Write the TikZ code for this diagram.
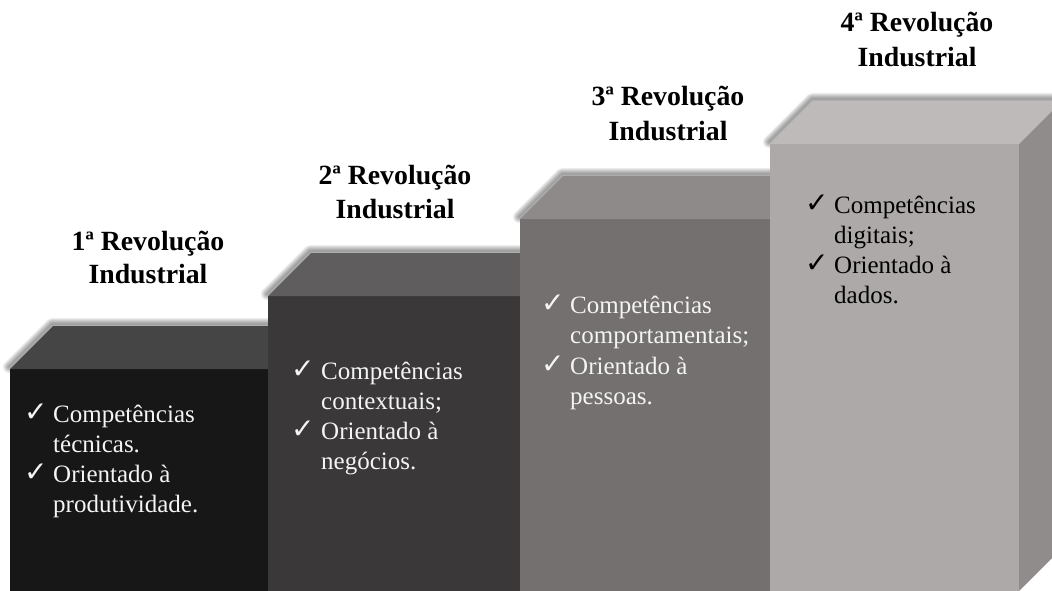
\documentclass[tikz,border=0pt]{standalone}
\usepackage{fontspec}
\setmainfont{Liberation Serif}
\newfontfamily\symfont{DejaVu Sans}
\definecolor{fA}{HTML}{171717}\definecolor{tA}{HTML}{454545}
\definecolor{fB}{HTML}{3A3838}\definecolor{tB}{HTML}{5F5D5D}
\definecolor{fC}{HTML}{73706F}\definecolor{tC}{HTML}{8E8A89}
\definecolor{fD}{HTML}{ADA9A8}\definecolor{tD}{HTML}{BEBAB9}\definecolor{sD}{HTML}{8F8C8B}
\definecolor{wtext}{HTML}{F4F4F4}
\tikzset{
  title/.style={font=\bfseries\fontsize{27.8}{33}\selectfont, anchor=base, inner sep=0pt, text=black},
  bt/.style={font=\fontsize{25}{30}\selectfont, anchor=base west, inner sep=0pt, text=wtext},
  ck/.style={font=\symfont\fontsize{28}{28}\selectfont, anchor=base west, inner sep=0pt, text=wtext},
  shad/.style={draw=black, opacity=0.07, line join=round, line cap=round},
}
\newcommand\myshadow[1]{\begin{scope}[shift={(-1,-2)}]\foreach \w in {2,4,...,12}{\draw[shad, line width=\w pt] #1;}\end{scope}}
\newcommand\myitem[6]{%
  \node[ck] (#1c) at (#2,#4-1) {✓};
  \node[bt] (#1a) at (#3,#4) {#5};
  \node[bt] (#1b) at (#3,#4+30) {#6};}
\begin{document}
\begin{tikzpicture}[x=1pt,y=-1pt]
\useasboundingbox (0,0) rectangle (1052,591);
\fill[white] (0,0) rectangle (1052,591);
\clip (0,0) rectangle (1052,591);
% box 1
\myshadow{(10,369) -- (53,326) -- (311,326)}
\fill[fA] (10,369) rectangle (268,600);
\fill[tA] (10,369) -- (53,326) -- (311,326) -- (268,369) -- cycle;
% box 2
\myshadow{(268,296) -- (311,253) -- (563,253)}
\fill[fB] (268,296) rectangle (520,600);
\fill[tB] (268,296) -- (311,253) -- (563,253) -- (520,296) -- cycle;
% box 3
\myshadow{(520,219) -- (563,176) -- (813,176)}
\fill[fC] (520,219) rectangle (770,600);
\fill[tC] (520,219) -- (563,176) -- (813,176) -- (770,219) -- cycle;
% box 4
\myshadow{(770,144) -- (813,101) -- (1070,101)}
\fill[fD] (770,144) rectangle (1019,600);
\fill[tD] (770,144) -- (813,101) -- (1062,101) -- (1019,144) -- cycle;
\fill[sD] (1019,144) -- (1062,101) -- (1062,548) -- (1019,591) -- cycle;
% titles
\node[title] (t1a) at (148,250) {1ª Revolução};
\node[title] (t1b) at (148,283) {Industrial};
\node[title] (t2a) at (395,184) {2ª Revolução};
\node[title] (t2b) at (395,218) {Industrial};
\node[title] (t3a) at (668,106) {3ª Revolução};
\node[title] (t3b) at (668,141) {Industrial};
\node[title] (t4a) at (917,32) {4ª Revolução};
\node[title] (t4b) at (917,67) {Industrial};
% bullets
\myitem{p}{24}{53}{422}{Competências}{técnicas.}
\myitem{q}{24}{53}{482}{Orientado à}{produtividade.}
\myitem{r}{291}{321}{379}{Competências}{contextuais;}
\myitem{s}{291}{321}{439}{Orientado à}{negócios.}
\myitem{u}{541}{570}{313}{Competências}{comportamentais;}
\myitem{v}{541}{570}{374}{Orientado à}{pessoas.}
\begin{scope}[bt/.append style={text=black}, ck/.append style={text=black}]
\myitem{w}{805}{834}{213}{Competências}{digitais;}
\myitem{x}{805}{834}{273}{Orientado à}{dados.}
\end{scope}
\end{tikzpicture}
\end{document}
